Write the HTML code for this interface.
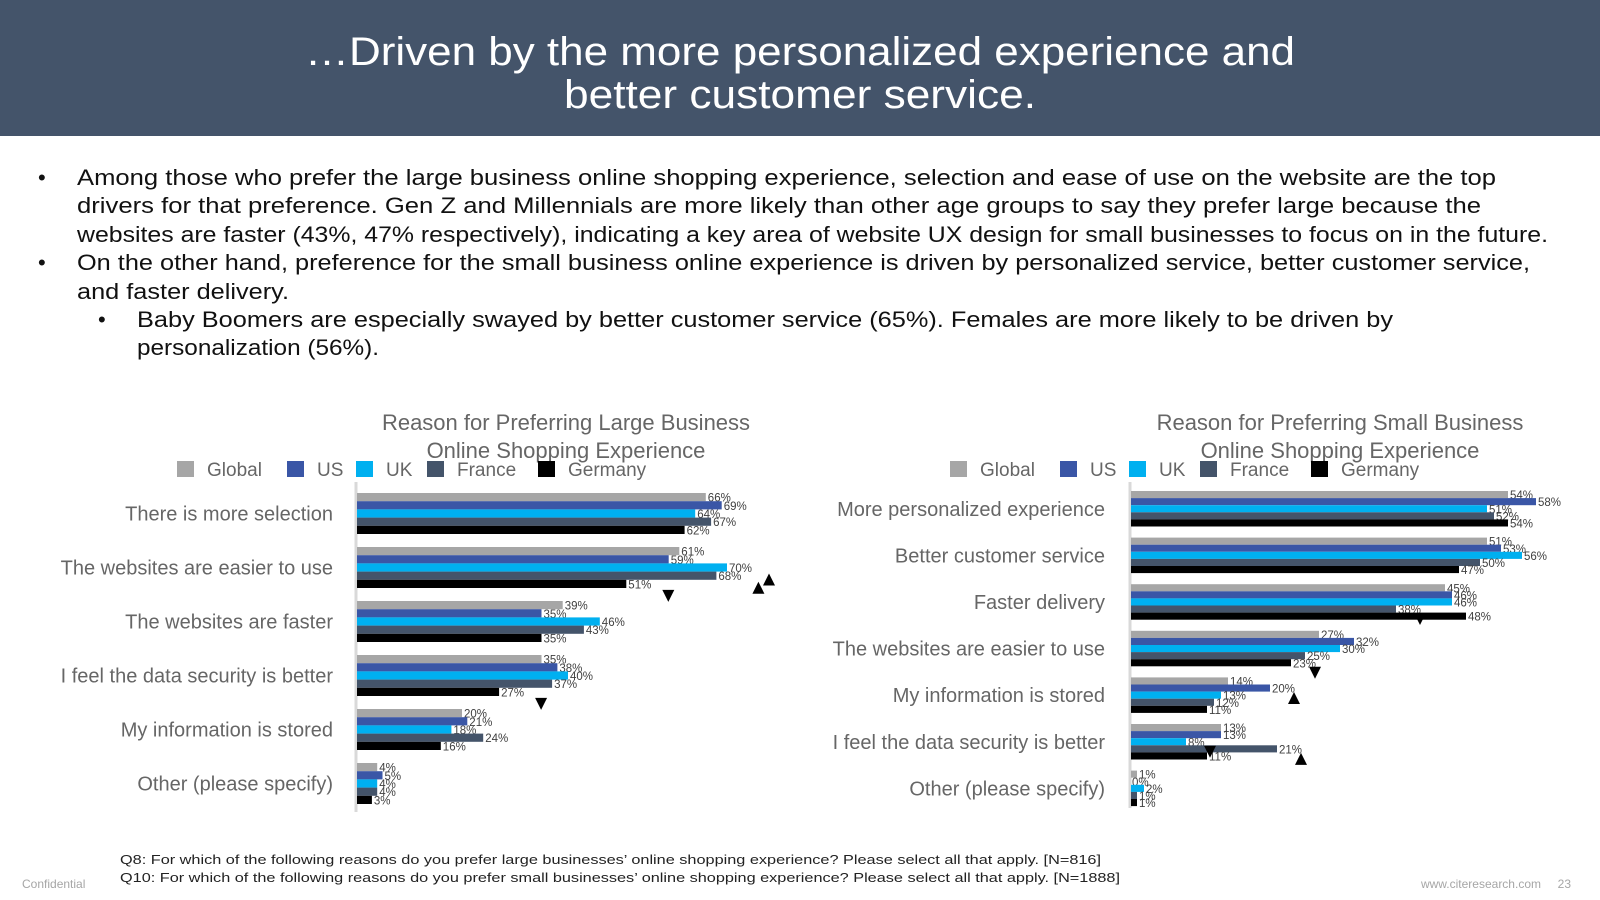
<!DOCTYPE html>
<html><head><meta charset="utf-8">
<style>
html,body{margin:0;padding:0;background:#fff;}
svg{display:block;font-family:"Liberation Sans",sans-serif;}
</style></head>
<body>
<svg id="page" width="1600" height="900" viewBox="0 0 1600 900">
<rect x="0" y="0" width="1600" height="136" fill="#44546a"/>
<text x="800" y="65" text-anchor="middle" fill="#fff" font-size="40" textLength="990" lengthAdjust="spacingAndGlyphs">…Driven by the more personalized experience and</text>
<text x="800" y="108" text-anchor="middle" fill="#fff" font-size="40" textLength="472" lengthAdjust="spacingAndGlyphs">better customer service.</text>

<g fill="#111" font-size="22">
<text x="38" y="185">•</text>
<text x="77" y="185" textLength="1419" lengthAdjust="spacingAndGlyphs">Among those who prefer the large business online shopping experience, selection and ease of use on the website are the top</text>
<text x="77" y="213" textLength="1404" lengthAdjust="spacingAndGlyphs">drivers for that preference.  Gen Z and Millennials are more likely than other age groups to say they prefer large because the</text>
<text x="77" y="242" textLength="1471" lengthAdjust="spacingAndGlyphs">websites are faster (43%, 47% respectively), indicating a key area of website UX design for small businesses to focus on in the future.</text>
<text x="38" y="270">•</text>
<text x="77" y="270" textLength="1453" lengthAdjust="spacingAndGlyphs">On the other hand, preference for the small business online experience is driven by personalized service, better customer service,</text>
<text x="77" y="299" textLength="212" lengthAdjust="spacingAndGlyphs">and faster delivery.</text>
<text x="98" y="327">•</text>
<text x="137" y="327" textLength="1256" lengthAdjust="spacingAndGlyphs">Baby Boomers are especially swayed by better customer service (65%).  Females are more likely to be driven by</text>
<text x="137" y="355" textLength="242" lengthAdjust="spacingAndGlyphs">personalization (56%).</text>
</g>

<g fill="#666" font-size="22" text-anchor="middle">
<text x="566" y="430">Reason for Preferring Large Business</text>
<text x="566" y="458">Online Shopping Experience</text>
<text x="1340" y="430">Reason for Preferring Small Business</text>
<text x="1340" y="458">Online Shopping Experience</text>
</g>
<g id="charts"></g>

<g fill="#222" font-size="13">
<text x="120" y="864" textLength="981" lengthAdjust="spacingAndGlyphs">Q8: For which of the following reasons do you prefer large businesses’ online shopping experience? Please select all that apply. [N=816]</text>
<text x="120" y="882" textLength="1000" lengthAdjust="spacingAndGlyphs">Q10: For which of the following reasons do you prefer small businesses’ online shopping experience?  Please select all that apply. [N=1888]</text>
</g>
<text x="22" y="888" fill="#a6a6a6" font-size="12">Confidential</text>
<text x="1541" y="888" text-anchor="end" fill="#a6a6a6" font-size="12">www.citeresearch.com</text>
<text x="1571" y="888" text-anchor="end" fill="#a6a6a6" font-size="12">23</text>
</svg>
<script>
const seriesNames = ["Global","US","UK","France","Germany"];
const seriesColors = ["#a6a6a6","#3a56a6","#00b0f0","#44546a","#000000"];

const largeCategories = ["There is more selection","The websites are easier to use","The websites are faster","I feel the data security is better","My information is stored","Other (please specify)"];
const largeGlobal  = [66,61,39,35,20,4];
const largeUS      = [69,59,35,38,21,5];
const largeUK      = [64,70,46,40,18,4];
const largeFrance  = [67,68,43,37,24,4];
const largeGermany = [62,51,35,27,16,3];
// significance markers: [category index, series index, direction]
const largeMarkers = [[1,4,"down"],[1,2,"up"],[1,3,"up"],[3,4,"down"]];

const smallCategories = ["More personalized experience","Better customer service","Faster delivery","The websites are easier to use","My information is stored","I feel the data security is better","Other (please specify)"];
const smallGlobal  = [54,51,45,27,14,13,1];
const smallUS      = [58,53,46,32,20,13,0];
const smallUK      = [51,56,46,30,13,8,2];
const smallFrance  = [52,50,38,25,12,21,1];
const smallGermany = [54,47,48,23,11,11,1];
const smallMarkers = [[2,3,"down"],[3,4,"down"],[4,1,"up"],[5,2,"down"],[5,3,"up"]];

const NS = "http://www.w3.org/2000/svg";
const root = document.getElementById("charts");
function mk(tag, attrs, parent){
  const e = document.createElementNS(NS, tag);
  for (const k in attrs) e.setAttribute(k, attrs[k]);
  (parent||root).appendChild(e);
  return e;
}

function drawChart(cfg){
  const g = mk("g", {});
  
  
  const xScale = v => cfg.x0 + v * cfg.pxPer;
  const groupTop = i => cfg.top + i * cfg.step;
  const barY = (i, s) => groupTop(i) + s * cfg.barH;
  const lg = mk("g", {}, g);
  
  
  seriesNames.forEach((n, s) => {
    const it = mk("g", {}, lg);
    
    
    const lx = cfg.legendX + cfg.legendOff[s];
    mk("rect", {x: lx, y: 461, width: 17, height: 16, fill: seriesColors[s]}, it);
    const t = mk("text", {x: lx + 30, y: 476, fill: "#666", "font-size": 19}, it);
    t.textContent = n;
  });
  const ax = mk("line", {x1: cfg.x0, x2: cfg.x0, y1: 482, y2: cfg.axisEnd, stroke: "#d9d9d9", "stroke-width": 3}, g);
  
  
  cfg.cats.forEach((c, i) => {
    const t = mk("text", {x: cfg.labelX, y: groupTop(i) + cfg.barH * 2.5 + 7, "text-anchor": "end", fill: "#666", "font-size": 20}, g);
    
    
    t.textContent = c;
    cfg.series.forEach((arr, s) => {
      const v = arr[i];
      const y = barY(i, s);
      const r = mk("rect", {x: cfg.x0 + 1, y: y, width: Math.max(0, xScale(v) - cfg.x0 - 1), height: cfg.barH, fill: seriesColors[s]}, g);
      
      
      const lt = mk("text", {x: xScale(v) + 2, y: y + cfg.barH / 2 + 4.5, fill: "#404040", "font-size": 11.5}, g);
      
      
      lt.textContent = v + "%";
    });
  });
  cfg.markers.forEach(m => {
    const [i, s, dir] = m;
    const cx = xScale(cfg.series[s][i]) + cfg.markDx;
    const cy = barY(i, s) + cfg.barH / 2 + cfg.markDy;
    const pts = dir === "up"
      ? `${cx-6},${cy+6} ${cx+6},${cy+6} ${cx},${cy-6}`
      : `${cx-6},${cy-6} ${cx+6},${cy-6} ${cx},${cy+6}`;
    const p = mk("polygon", {points: pts, fill: "#000"}, g);
    
    
  });
}

drawChart({name: "large-business-chart", cats: largeCategories,
  series: [largeGlobal, largeUS, largeUK, largeFrance, largeGermany],
  markers: largeMarkers, x0: 356, pxPer: 5.3, top: 493, step: 54, barH: 8.2,
  labelX: 333, axisEnd: 812, legendX: 177, legendOff: [0,110,179,250,361],
  markDx: 42, markDy: 12});
drawChart({name: "small-business-chart", cats: smallCategories,
  series: [smallGlobal, smallUS, smallUK, smallFrance, smallGermany],
  markers: smallMarkers, x0: 1130, pxPer: 7.0, top: 491, step: 46.6, barH: 7.1,
  labelX: 1105, axisEnd: 808, legendX: 950, legendOff: [0,110,179,250,361],
  markDx: 24, markDy: 10});
</script>
</body></html>
